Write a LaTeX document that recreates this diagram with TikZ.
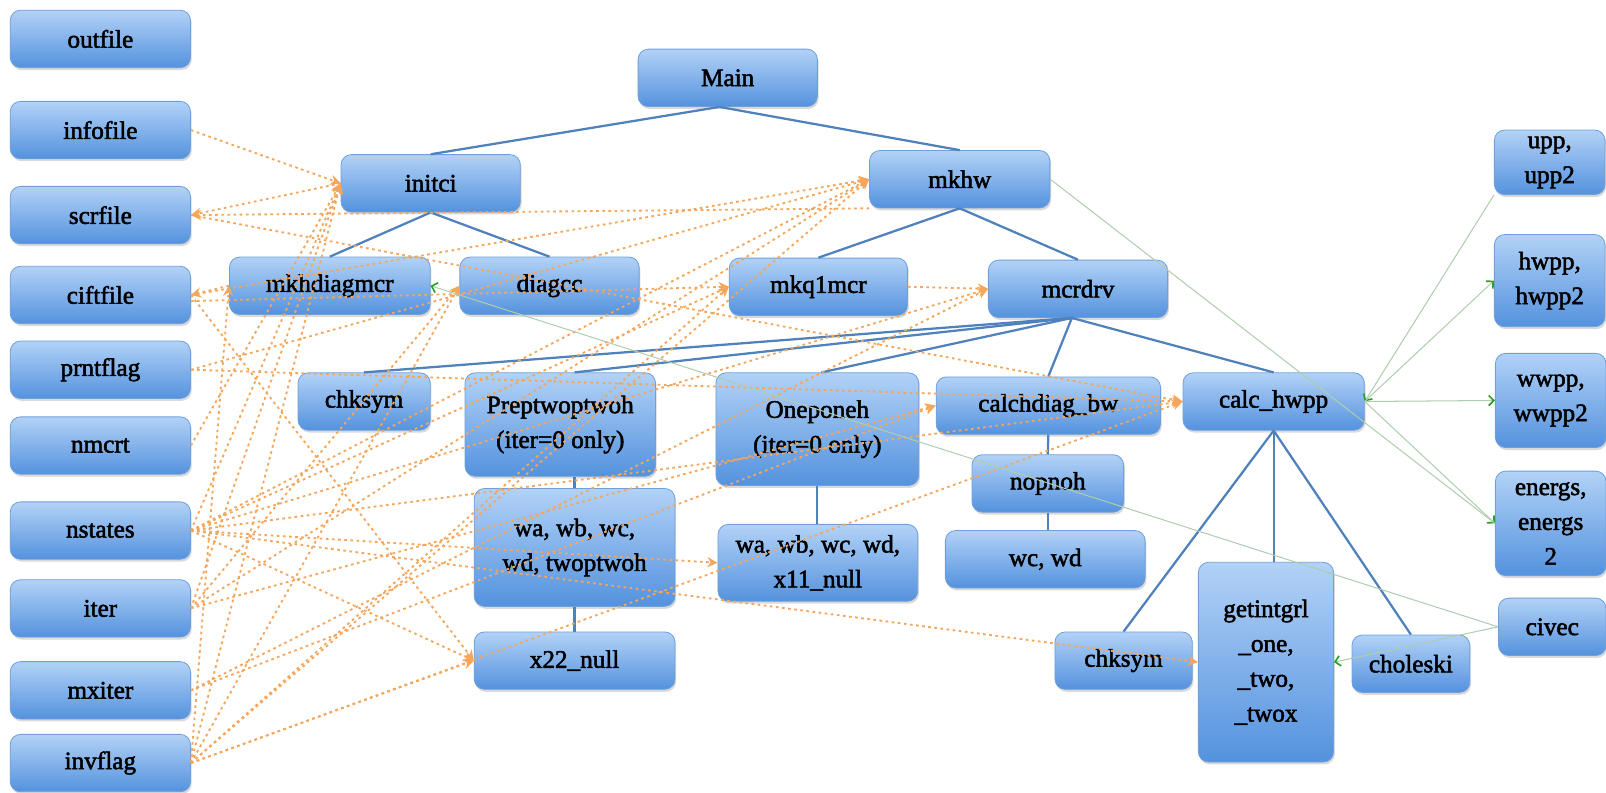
\documentclass[tikz,border=0pt]{standalone}
\usepackage{fontspec}
\setmainfont{Liberation Serif}
\newfontfamily\boxfont[FakeBold=2]{Liberation Serif}
\usetikzlibrary{arrows.meta,shadows,calc}
\definecolor{boxtop}{RGB}{178,210,247}
\definecolor{boxbot}{RGB}{84,146,222}
\definecolor{boxedge}{RGB}{112,160,218}
\definecolor{treeblue}{RGB}{79,129,189}
\definecolor{depor}{RGB}{245,166,90}
\definecolor{grline}{RGB}{175,205,175}
\definecolor{grhead}{RGB}{40,160,40}
\tikzset{
  bx/.style={rounded corners=5pt, top color=boxtop, bottom color=boxbot, draw=boxedge,
    line width=0.4pt, align=center, inner sep=1pt, text=black,
    font=\boxfont\fontsize{12.3}{17}\selectfont,
    drop shadow={shadow xshift=0.6pt, shadow yshift=-1.2pt, opacity=0.3}},
  sz/.style 2 args={minimum width=#1*0.5pt, minimum height=#2*0.5pt},
  tree/.style={draw=treeblue, line width=1.1pt},
  dep/.style={draw=depor, line width=0.9pt, dash pattern=on 1.3pt off 1.7pt,
    -{Stealth[length=5pt,width=5pt]}},
  grn/.style={draw=grline, line width=0.5pt,
    -{Straight Barb[length=2.5pt,width=5pt,color=grhead,line width=0.8pt]}},
  grnplain/.style={draw=grline, line width=0.5pt}
}
\begin{document}
\begin{tikzpicture}[x=0.5pt,y=-0.5pt]
\useasboundingbox (0,0) rectangle (1568,774);
% left column
\node[bx,sz={176}{56}] (outfile) at (98,38) {outfile};
\node[bx,sz={176}{56}] (infofile) at (98,127) {infofile};
\node[bx,sz={176}{56}] (scrfile) at (98,210) {scrfile};
\node[bx,sz={176}{56}] (ciftfile) at (98,288) {ciftfile};
\node[bx,sz={176}{56}] (prntflag) at (98,361) {prntflag};
\node[bx,sz={176}{56}] (nmcrt) at (98,435) {nmcrt};
\node[bx,sz={176}{56}] (nstates) at (98,518) {nstates};
\node[bx,sz={176}{56}] (iter) at (98,594) {iter};
\node[bx,sz={176}{56}] (mxiter) at (98,674) {mxiter};
\node[bx,sz={176}{56}] (invflag) at (98,745) {invflag};
% tree
\node[bx,sz={175}{56}] (main) at (710.5,76) {Main};
\node[bx,sz={175}{56}] (initci) at (420.5,179) {initci};
\node[bx,sz={176}{56}] (mkhw) at (937,175) {mkhw};
\node[bx,sz={196}{56}] (mkhdiag) at (322,279) {mkhdiagmcr};
\node[bx,sz={175}{56}] (diagcc) at (536.5,279) {diagcc};
\node[bx,sz={174}{56}] (mkq) at (799,280) {mkq1mcr};
\node[bx,sz={175}{56}] (mcrdrv) at (1052.5,282) {mcrdrv};
\node[bx,sz={129}{56}] (chksymA) at (355.5,392) {chksym};
\node[bx,sz={186}{101}] (prept) at (547,414.5) {Preptwoptwoh\\(iter=0 only)};
\node[bx,sz={198}{110}] (onep) at (798,419) {Oneponeh\\(iter=0 only)};
\node[bx,sz={219}{56}] (calcd) at (1023.5,396) {calchdiag\_bw};
\node[bx,sz={177}{56}] (calch) at (1243.5,392) {calc\_hwpp};
\node[bx,sz={148}{56}] (nopnoh) at (1023,472) {nopnoh};
\node[bx,sz={195}{56}] (wcwd) at (1020.5,546) {wc, wd};
\node[bx,sz={196}{115}] (twop) at (561,534.5) {wa, wb, wc,\\wd, twoptwoh};
\node[bx,sz={195}{75}] (xone) at (798.5,549.5) {wa, wb, wc, wd,\\x11\_null};
\node[bx,sz={196}{56}] (xtwo) at (561,645) {x22\_null};
\node[bx,sz={134}{56}] (chksymB) at (1097,645) {chksym};
\node[bx,sz={132}{195}] (getint) at (1236,646.5) {getintgrl\\\_one,\\\_two,\\\_twox};
\node[bx,sz={115}{56}] (chol) at (1377.5,648) {choleski};
\node[bx,sz={105}{56}] (civec) at (1515.5,612) {civec};
% right column
\node[bx,sz={108}{63}] (upp) at (1513,158.5) {upp,\\upp2};
\node[bx,sz={108}{90}] (hwpp) at (1513,274) {hwpp,\\hwpp2};
\node[bx,sz={108}{92}] (wwpp) at (1514,391) {wwpp,\\wwpp2};
\node[bx,sz={108}{102}] (energs) at (1514,511) {energs,\\energs\\2};
% tree edges
\draw[tree] ($(main.south)+(-8,0)$) -- (initci.north);
\draw[tree] ($(main.south)+(-8,0)$) -- (mkhw.north);
\draw[tree] (initci.south) -- (mkhdiag.north);
\draw[tree] (initci.south) -- (diagcc.north);
\draw[tree] (mkhw.south) -- (mkq.north);
\draw[tree] (mkhw.south) -- (mcrdrv.north);
\draw[tree] ($(mcrdrv.south)+(-6,0)$) -- (chksymA.north);
\draw[tree] ($(mcrdrv.south)+(-6,0)$) -- ($(prept.north)+(14,0)$);
\draw[tree] ($(mcrdrv.south)+(-6,0)$) -- ($(onep.north)+(4,0)$);
\draw[tree] ($(mcrdrv.south)+(-6,0)$) -- (calcd.north);
\draw[tree] ($(mcrdrv.south)+(-6,0)$) -- (calch.north);
\draw[tree] (calcd.south) -- (nopnoh.north);
\draw[tree] (nopnoh.south) -- (nopnoh.south |- wcwd.north);
\draw[tree] (twop.north |- prept.south) -- (twop.north);
\draw[tree] (twop.south) -- (xtwo.north);
\draw[tree] (onep.south) -- (onep.south |- xone.north);
\draw[tree] (calch.south) -- (chksymB.north);
\draw[tree] (calch.south) -- (calch.south |- getint.north);
\draw[tree] (calch.south) -- (chol.north);
% orange data-flow arrows
\draw[dep] (infofile.east) -- (initci.west);
\draw[dep] (nmcrt.east) -- (initci.west);
\draw[dep] (nstates.east) -- (initci.west);
\draw[dep] (iter.east) -- (initci.west);
\draw[dep] (invflag.east) -- (initci.west);
\draw[dep] (initci.west) -- (scrfile.east);
\draw[dep] (mkhw.south west) -- (scrfile.east);
\draw[dep] (scrfile.east) -- (calch.west);
\draw[dep] (mkhdiag.west) -- (ciftfile.east);
\draw[dep] ($(ciftfile.east)+(0,6)$) -- (mkq.west);
\draw[dep] (ciftfile.east) -- (mkhw.west);
\draw[dep] (ciftfile.east) -- (xtwo.west);
\draw[dep] (prntflag.east) -- (mkhw.west);
\draw[dep] (prntflag.east) -- (calch.west);
\draw[dep] (nstates.east) -- (mkhw.west);
\draw[dep] (nstates.east) -- (mkq.west);
\draw[dep] (nstates.east) -- (mcrdrv.west);
\draw[dep] (nstates.east) -- (calch.west);
\draw[dep] (nstates.east) -- (xone.west);
\draw[dep] (nstates.east) -- (xtwo.west);
\draw[dep] (nstates.east) -- (getint.west);
\draw[dep] (iter.east) -- (mkhw.west);
\draw[dep] (iter.east) -- (calcd.west);
\draw[dep] (iter.east) -- (diagcc.west);
\draw[dep] (mxiter.east) -- (mcrdrv.west);
\draw[dep] (mxiter.east) -- (calcd.west);
\draw[dep] (invflag.east) -- (mkhdiag.west);
\draw[dep] (invflag.east) -- (diagcc.west);
\draw[dep] (invflag.east) -- (mkhw.west);
\draw[dep] (invflag.east) -- (mkq.west);
\draw[dep] (invflag.east) -- (calch.west);
\draw[dep] (invflag.east) -- (xtwo.west);
\draw[dep] (mkq.east) -- (mcrdrv.west);
% green arrows
\draw[grn] (upp.south west) -- (calch.east);
\draw[grn] (calch.east) -- (hwpp.west);
\draw[grn] (calch.east) -- (wwpp.west);
\draw[grn] (calch.east) -- (energs.west);
\draw[grnplain] (mkhw.east) -- (energs.west);
\draw[grn] (civec.west) -- (getint.east);
\draw[grn] (civec.west) -- (mkhdiag.east);
\end{tikzpicture}
\end{document}
